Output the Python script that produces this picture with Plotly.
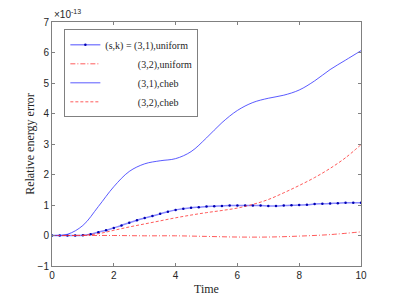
import plotly.graph_objects as go

# values in units of 1e-13
t_fine = [i * 0.25 for i in range(41)]
uni31 = [0, 0, 0, 0, 0.01, 0.04, 0.11, 0.17, 0.25, 0.33, 0.42, 0.5, 0.57, 0.64, 0.71, 0.78,
         0.84, 0.88, 0.91, 0.93, 0.95, 0.96, 0.97, 0.98, 0.98, 0.98, 0.98, 0.98, 0.97, 0.97,
         0.98, 0.99, 1.0, 1.01, 1.03, 1.04, 1.05, 1.06, 1.07, 1.07, 1.07]

t_half = [i * 0.5 for i in range(21)]
cheb31 = [0, 0.04, 0.33, 0.95, 1.6, 2.1, 2.35, 2.45, 2.52, 2.75, 3.2, 3.7, 4.1, 4.36, 4.5,
          4.6, 4.77, 5.07, 5.44, 5.75, 6.06]
cheb32 = [0, 0, 0.01, 0.06, 0.17, 0.28, 0.38, 0.48, 0.58, 0.67, 0.75, 0.82, 0.9, 1.02, 1.18,
          1.4, 1.64, 1.9, 2.2, 2.55, 2.98]

t_uni32 = [0, 1, 2, 3, 4, 5, 6, 7, 8, 9, 10]
uni32 = [0, 0, 0, -0.01, -0.01, -0.03, -0.05, -0.05, -0.02, 0.03, 0.12]

x_ticks = [0, 2, 4, 6, 8, 10]
y_ticks = [-1, 0, 1, 2, 3, 4, 5, 6, 7]

SERIF = "Liberation Serif, Times New Roman, serif"
SANS = "Liberation Sans, Arial, sans-serif"
NB = "&nbsp;"
fig = go.Figure()
fig.add_trace(go.Scatter(x=t_fine, y=uni31, mode="lines+markers", line_shape="spline",
                         name="(s,k) = (3,1),uniform",
                         line=dict(color="rgba(60,60,255,0.6)", width=1.5),
                         marker=dict(color="#0000b0", size=2.5)))
fig.add_trace(go.Scatter(x=t_uni32, y=uni32, mode="lines", line_shape="spline",
                         name=NB * 13 + "(3,2),uniform",
                         line=dict(color="#ff3030", width=0.8, dash="5px,2px,1px,2px")))
fig.add_trace(go.Scatter(x=t_half, y=cheb31, mode="lines", line_shape="spline",
                         name=NB * 13 + "(3,1),cheb",
                         line=dict(color="#3030ff", width=0.8)))
fig.add_trace(go.Scatter(x=t_half, y=cheb32, mode="lines", line_shape="spline",
                         name=NB * 13 + "(3,2),cheb",
                         line=dict(color="#ff3030", width=0.8, dash="3px,2px")))

axis_common = dict(showgrid=False, zeroline=False, showline=True, mirror="ticks",
                   linecolor="#808080", linewidth=1, ticks="inside", ticklen=3,
                   tickcolor="#808080", automargin=False,
                   tickfont=dict(family=SANS, size=10, color="#262626"))
fig.update_xaxes(range=[0, 10], tickvals=x_ticks, **axis_common,
                 title=dict(text="Time", font=dict(family=SERIF, size=12, color="#262626"),
                            standoff=4))
fig.update_yaxes(range=[-1, 7], tickvals=y_ticks, **axis_common,
                 title=dict(text="Relative energy error",
                            font=dict(family=SERIF, size=12, color="#262626"),
                            standoff=0))
fig.add_annotation(text="×10<sup>-13</sup>", xref="paper", yref="paper", x=0, y=1,
                   xanchor="left", yanchor="bottom", showarrow=False,
                   font=dict(family=SANS, size=10, color="#262626"))
fig.update_layout(width=391, height=291, margin=dict(l=44, r=38, t=14, b=33),
                  plot_bgcolor="white", paper_bgcolor="white", showlegend=True,
                  legend=dict(x=0.04, y=0.97, xanchor="left", yanchor="top",
                              bgcolor="white", bordercolor="#808080", borderwidth=1,
                              font=dict(family=SERIF, size=10, color="#262626"),
                              tracegroupgap=0, itemwidth=30))
fig.write_html("out.html")
